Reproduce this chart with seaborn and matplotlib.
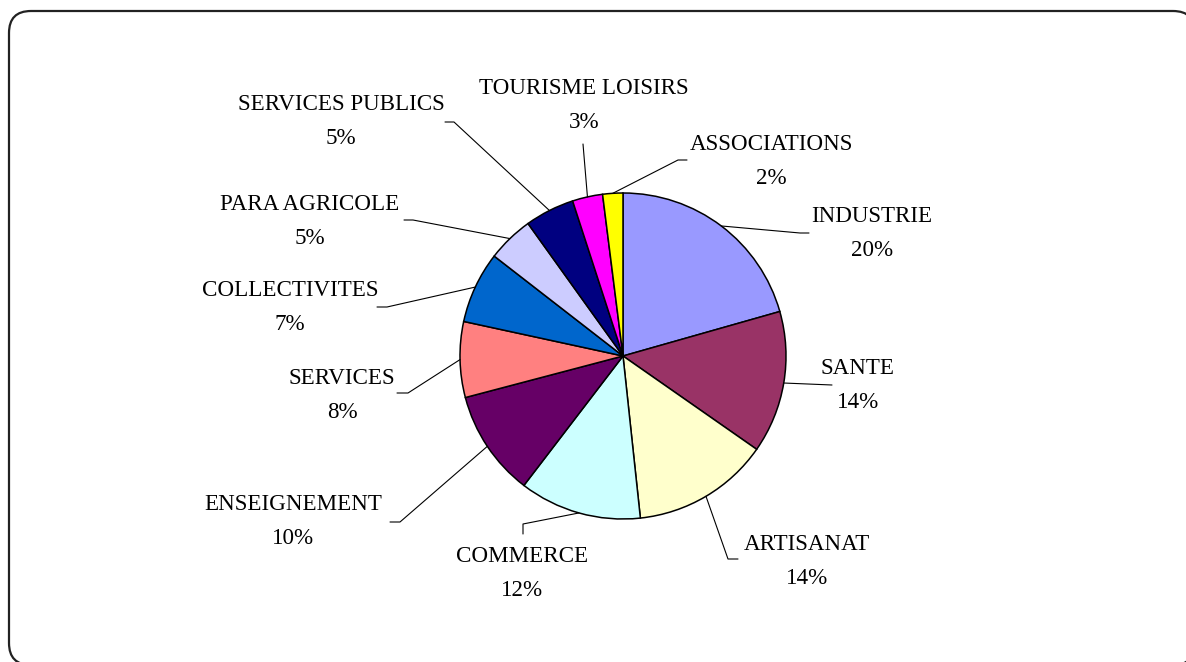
import matplotlib
matplotlib.use("Agg")
import matplotlib.pyplot as plt
from matplotlib.patches import FancyBboxPatch
import numpy as np
import seaborn as sns

# donnees (parts en %)
secteurs = ['INDUSTRIE', 'SANTE', 'ARTISANAT', 'COMMERCE', 'ENSEIGNEMENT', 'SERVICES',
            'COLLECTIVITES', 'PARA AGRICOLE', 'SERVICES PUBLICS', 'TOURISME LOISIRS', 'ASSOCIATIONS']
parts = [20.6, 14.1, 13.6, 12.1, 10.5, 7.5, 7.1, 4.6, 4.9, 3.0, 2.0]
pct_labels = ['20%', '14%', '14%', '12%', '10%', '8%', '7%', '5%', '5%', '3%', '2%']
couleurs = ['#9999FF', '#993366', '#FFFFCC', '#CCFFFF', '#660066', '#FF8080',
            '#0066CC', '#CCCCFF', '#000080', '#FF00FF', '#FFFF00']

# mise en page (pixels de l'image, y vers le bas)
W, H = 1186, 662
centre = (623, 356)
rayon = 163
txt_pos = [(872, 216), (858, 369), (807, 545), (522, 557), (293, 504), (342, 378),
           (290, 290), (310, 204), (341, 104), (584, 88), (771, 144)]
# coude puis extremite de chaque trait de rappel
coudes = [(800, 233), (832, 385), (728, 559), (523, 524), (400, 522), (408, 393),
          (387, 307), (413, 220), (454, 122), (583, 144), (678, 160)]
bouts = [(809, 233), (832, 385), (738, 559), (523, 534), (390, 522), (397, 393),
         (377, 307), (404, 220), (445, 122), (583, 144), (687, 160)]

sns.set_theme(style='white')
plt.rcParams['font.family'] = ['Liberation Serif', 'DejaVu Serif']

fig = plt.figure(figsize=(W / 100, H / 100), dpi=100)
ax = fig.add_axes([0, 0, 1, 1])

# cadre arrondi (depasse a droite et en bas)
cadre = FancyBboxPatch((9, -3), 1186, H - 11 + 3,
                       boxstyle='round,pad=0,rounding_size=22',
                       facecolor='white', edgecolor='#222222', linewidth=1.6, zorder=0)
ax.add_patch(cadre)

wedges, _ = ax.pie(parts, colors=couleurs, startangle=90, counterclock=False,
                   radius=rayon, center=(centre[0], H - centre[1]),
                   wedgeprops=dict(edgecolor='black', linewidth=1.1), frame=True)
ax.set_xlim(0, W)
ax.set_ylim(0, H)
ax.axis('off')

for w, nom, pct, (tx, ty), (cx, cy), (bx, by) in zip(wedges, secteurs, pct_labels, txt_pos, coudes, bouts):
    ang = np.deg2rad((w.theta1 + w.theta2) / 2)
    x0 = centre[0] + rayon * np.cos(ang)
    y0 = H - centre[1] + rayon * np.sin(ang)
    ax.plot([x0, cx, bx], [y0, H - cy, H - by], color='black', linewidth=0.8, zorder=3)
    ax.text(tx, H - ty, nom, ha='center', va='center', fontsize=16.6, color='black')
    ax.text(tx, H - ty - 34, pct, ha='center', va='center', fontsize=16.6, color='black')

fig.savefig('out.png', dpi=100)
